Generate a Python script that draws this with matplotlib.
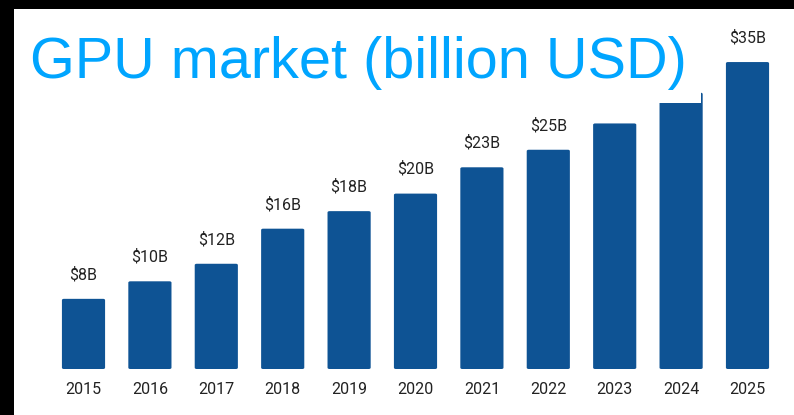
import matplotlib
matplotlib.use("Agg")
import matplotlib.pyplot as plt
from matplotlib.patches import Rectangle, FancyBboxPatch

years = ["2015", "2016", "2017", "2018", "2019", "2020",
         "2021", "2022", "2023", "2024", "2025"]
values = [8, 10, 12, 16, 18, 20, 23, 25, 28, 31.5, 35]
# 2023 and 2024 labels sit under the title panel, so they are left blank
labels = ["$8B", "$10B", "$12B", "$16B", "$18B", "$20B",
          "$23B", "$25B", "", "", "$35B"]

W, H = 794, 415
fig = plt.figure(figsize=(W / 100, H / 100), dpi=100)
fig.patch.set_facecolor("white")

# plot area in pixel terms
left_px, right_px = 50.3, 780.7
bottom_px, top_px = 369, 10
ax = fig.add_axes([left_px / W, (H - bottom_px) / H,
                   (right_px - left_px) / W, (bottom_px - top_px) / H])
ax.set_xlim(-0.5, len(years) - 0.5)
ax.set_ylim(0, (bottom_px - top_px) / 8.77)
ax.axis("off")

bar_color = "#0E5394"
bar_w = 0.65
for i, v in enumerate(values):
    ax.add_patch(FancyBboxPatch((i - bar_w / 2, 0), bar_w, v,
                                boxstyle="round,pad=0,rounding_size=0.03",
                                mutation_aspect=1 / 0.2,
                                facecolor=bar_color, edgecolor="none"))
    if labels[i]:
        ax.annotate(labels[i], (i, v), xytext=(0, 12), textcoords="offset points",
                    ha="center", va="bottom", fontsize=11.5, color="#222222",
                    family="Roboto")
    ax.annotate(years[i], (i, 0), xytext=(0, -15), textcoords="offset points",
                ha="center", va="center", fontsize=11.5, color="#222222",
                family="Roboto", annotation_clip=False)

# title on a white panel laid over the upper part of the chart
fig.patches.append(Rectangle((14 / W, (H - 103) / H), (701 - 14) / W, (103 - 9.5) / H,
                             transform=fig.transFigure, facecolor="white",
                             edgecolor="none", zorder=5))
fig.text(30 / W, (H - 78) / H, "GPU market (billion USD)", ha="left",
         va="baseline", fontsize=41.5, color="#00A5FF", family="Liberation Sans",
         zorder=6)

# dark frame along the top and left edges
fig.patches.append(Rectangle((0, (H - 9.5) / H), 1, 9.5 / H,
                             transform=fig.transFigure, facecolor="black",
                             edgecolor="none", zorder=10))
fig.patches.append(Rectangle((0, 0), 14 / W, 1,
                             transform=fig.transFigure, facecolor="black",
                             edgecolor="none", zorder=10))

fig.savefig("out.png", dpi=100)
